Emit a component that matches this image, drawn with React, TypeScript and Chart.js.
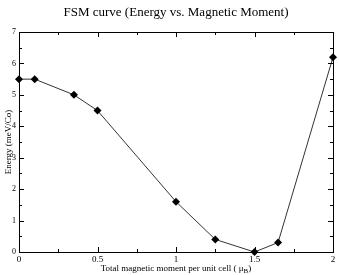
import React, { useEffect, useRef } from "react";
import { Chart, registerables } from "chart.js";

Chart.register(...registerables);

const moments = [0, 0.1, 0.35, 0.5, 1, 1.25, 1.5, 1.65, 2];
const energies = [5.5, 5.5, 5.0, 4.5, 1.6, 0.4, 0.0, 0.3, 6.2];
const xTickLabels = ["0", "0.5", "1", "1.5", "2"];
const yTickLabels = ["0", "1", "2", "3", "4", "5", "6", "7"];
const chartTitle = "FSM curve (Energy vs. Magnetic Moment)";
const xTitle = "Total magnetic moment per unit cell ( \u03bc";
const xTitleSub = "B";
const yTitle = "Energy (meV/Co)";

const SERIF = "'Liberation Serif', 'DejaVu Serif', serif";

const framePlugin = {
  id: "frame",
  afterDatasetsDraw(chart: any) {
    const { ctx, chartArea: a, scales } = chart;
    const xs = scales.x;
    const ys = scales.y;
    ctx.save();
    ctx.strokeStyle = "#000";
    ctx.lineWidth = 1;
    ctx.strokeRect(Math.round(a.left) + 0.5, Math.round(a.top) + 0.5, Math.round(a.right - a.left), Math.round(a.bottom - a.top));
    ctx.beginPath();
    for (let v = 0; v <= 2.0001; v += 0.25) {
      const major = Math.abs(v * 2 - Math.round(v * 2)) < 1e-6;
      const len = major ? 5 : 3;
      const px = Math.round(xs.getPixelForValue(v)) + 0.5;
      ctx.moveTo(px, a.bottom);
      ctx.lineTo(px, a.bottom - len);
      ctx.moveTo(px, a.top);
      ctx.lineTo(px, a.top + len);
    }
    for (let v = 0; v <= 7.0001; v += 0.5) {
      const major = Math.abs(v - Math.round(v)) < 1e-6;
      const len = major ? 5 : 3;
      const py = Math.round(ys.getPixelForValue(v)) + 0.5;
      ctx.moveTo(a.left, py);
      ctx.lineTo(a.left + len, py);
      ctx.moveTo(a.right, py);
      ctx.lineTo(a.right - len, py);
    }
    ctx.stroke();

    ctx.fillStyle = "#000";
    ctx.textBaseline = "alphabetic";
    ctx.textAlign = "center";
    ctx.font = `13px ${SERIF}`;
    ctx.fillText(chartTitle, (a.left + a.right) / 2, 16);

    ctx.font = `9px ${SERIF}`;
    const w1 = ctx.measureText(xTitle).width;
    ctx.font = `7px ${SERIF}`;
    const w2 = ctx.measureText(xTitleSub).width;
    ctx.font = `9px ${SERIF}`;
    const w3 = ctx.measureText(")").width;
    const total = w1 + w2 + w3;
    let sx = (a.left + a.right) / 2 - total / 2;
    const by = 271;
    ctx.textAlign = "left";
    ctx.fillText(xTitle, sx, by);
    sx += w1;
    ctx.font = `7px ${SERIF}`;
    ctx.fillText(xTitleSub, sx, by + 2);
    sx += w2;
    ctx.font = `9px ${SERIF}`;
    ctx.fillText(")", sx, by);

    ctx.save();
    ctx.translate(9, (a.top + a.bottom) / 2);
    ctx.rotate(-Math.PI / 2);
    ctx.textAlign = "center";
    ctx.textBaseline = "middle";
    ctx.fillText(yTitle, 0, 0);
    ctx.restore();
    ctx.restore();
  },
};

export default function App() {
  const ref = useRef<HTMLCanvasElement>(null);
  useEffect(() => {
    document.body.style.margin = "0";
    const chart = new Chart(ref.current!, {
      type: "line",
      data: {
        datasets: [
          {
            data: moments.map((m, i) => ({ x: m, y: energies[i] })),
            borderColor: "#333",
            borderWidth: 1,
            pointStyle: "rectRot",
            pointRadius: 4,
            pointBackgroundColor: "#000",
            pointBorderColor: "#000",
            pointBorderWidth: 0,
            tension: 0,
            clip: false as any,
          },
        ],
      },
      options: {
        animation: false,
        responsive: false,
        layout: { padding: { top: 32, right: 6, left: 0, bottom: 0 } },
        plugins: { legend: { display: false }, tooltip: { enabled: false } },
        scales: {
          x: {
            type: "linear",
            min: 0,
            max: 2,
            grid: { display: false, drawTicks: false },
            border: { display: false },
            ticks: {
              stepSize: 0.5,
              padding: 2,
              maxRotation: 0,
              color: "#000",
              font: { family: SERIF, size: 9 },
              callback: (v: any) => {
                const i = Math.round(Number(v) * 2);
                return xTickLabels[i] ?? "";
              },
            },
            afterFit: (s: any) => {
              s.height = 23;
            },
          },
          y: {
            type: "linear",
            min: 0,
            max: 7,
            grid: { display: false, drawTicks: false },
            border: { display: false },
            ticks: {
              stepSize: 1,
              padding: 3,
              color: "#000",
              font: { family: SERIF, size: 8 },
              callback: (v: any) => yTickLabels[Math.round(Number(v))] ?? "",
            },
            afterFit: (s: any) => {
              s.width = 19;
            },
          },
        },
      },
      plugins: [framePlugin],
    });
    return () => chart.destroy();
  }, []);
  return <canvas ref={ref} width={339} height={275} style={{ display: "block", width: 339, height: 275 }} />;
}
